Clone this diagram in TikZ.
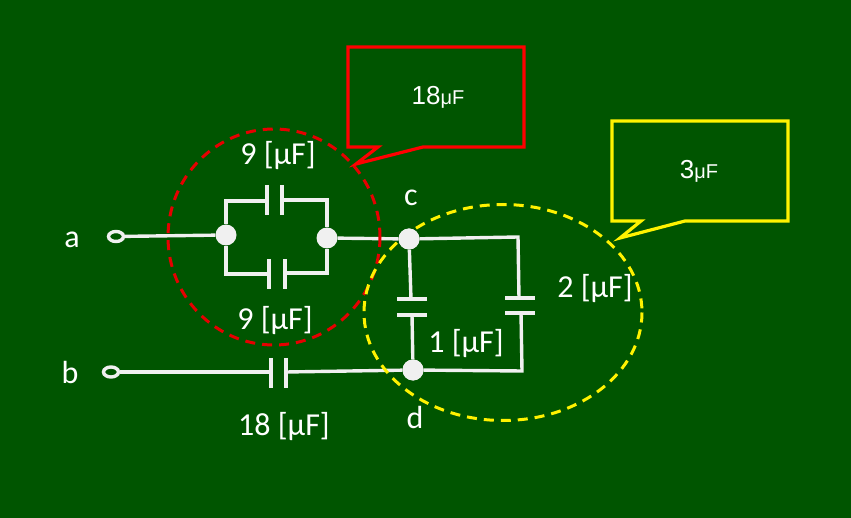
\documentclass[tikz,border=0pt]{standalone}
\usepackage{fontspec}
\setmainfont{Carlito}
\newfontfamily\calloutfont{Liberation Sans}
\usetikzlibrary{shapes.geometric}
\definecolor{board}{RGB}{0,85,0}
\definecolor{chalk}{RGB}{240,240,240}
\tikzset{
  wire/.style={draw=chalk, line width=3.4pt},
  plate/.style={draw=chalk, line width=4.4pt},
  junction/.style={circle, fill=chalk, inner sep=0pt, minimum size=21pt},
  terminal/.style={ellipse, draw=chalk, line width=3.4pt, fill=board, inner sep=0pt, minimum width=15pt, minimum height=10pt},
  label/.style={text=white, inner sep=0pt, font=\fontsize{32}{35}\selectfont},
  group/.style={line width=3pt, dash pattern=on 10pt off 7pt},
  callout/.style={line width=3.2pt, line join=miter},
  callouttext/.style={text=white, inner sep=0pt, font=\calloutfont\fontsize{26}{29}\selectfont}
}
\newcommand{\mufarad}{{\fontsize{20}{22}\selectfont μF}}
\begin{document}
\begin{tikzpicture}[x=1pt, y=-1pt]
    \fill[board] (0, 0) rectangle (851, 518);
    \useasboundingbox (0, 0) rectangle (851, 518);

    % terminals and junctions
    \node[terminal] (ta) at (116, 236.5) {};
    \node[terminal] (tb) at (111, 372) {};
    \node[junction] (jl) at (226, 235) {};
    \node[junction] (jr) at (327, 238) {};
    \node[junction] (jc) at (409, 239) {};
    \node[junction] (jd) at (413, 370) {};
    \coordinate (tl) at (226, 201);
    \coordinate (tr) at (327, 200);
    \coordinate (bl) at (226, 274);
    \coordinate (br) at (327, 273);
    \coordinate (cr) at (518, 237);
    \coordinate (dr) at (522, 371);

    % plates of the capacitors
    \coordinate (p1a) at (267, 201);
    \coordinate (p1b) at (282, 200);
    \coordinate (p2a) at (269, 274);
    \coordinate (p2b) at (285, 273);
    \coordinate (p3a) at (271, 372);
    \coordinate (p3b) at (286, 372);
    \coordinate (p4a) at (411, 299);
    \coordinate (p4b) at (412, 315);
    \coordinate (p5a) at (519, 298);
    \coordinate (p5b) at (521, 313);
    \draw[plate] (267, 185) -- (267, 215);
    \draw[plate] (282, 185) -- (282, 215);
    \draw[plate] (269, 259) -- (269, 289);
    \draw[plate] (285, 259) -- (285, 289);
    \draw[plate] (271, 358) -- (271, 388);
    \draw[plate] (286, 358) -- (286, 388);
    \draw[plate] (397, 299) -- (427, 299);
    \draw[plate] (397, 315) -- (427, 315);
    \draw[plate] (505, 298) -- (535, 298);
    \draw[plate] (505, 313) -- (535, 313);

    % wires
    \draw[wire] (ta) -- (jl);
    \draw[wire] (jl) -- (tl) -- (p1a);
    \draw[wire] (p1b) -- (tr) -- (jr);
    \draw[wire] (jl) -- (bl) -- (p2a);
    \draw[wire] (p2b) -- (br) -- (jr);
    \draw[wire] (jr) -- (jc);
    \draw[wire] (jc) -- (cr) -- (p5a);
    \draw[wire] (jc) -- (p4a);
    \draw[wire] (p4b) -- (jd);
    \draw[wire] (p5b) -- (dr) -- (jd);
    \draw[wire] (tb) -- (p3a);
    \draw[wire] (p3b) -- (jd);

    % dashed groups
    \draw[group, red!90!black] (274, 237) ellipse [x radius=106, y radius=108];
    \draw[group, yellow] (503, 312.5) ellipse [x radius=139, y radius=108];
    \node[junction] at (jc) {};
    \node[junction] at (jd) {};

    % callouts
    \draw[callout, red] (348, 47) -- (524, 47) -- (524, 147) -- (423, 147)
                        -- (356, 164) -- (378, 147) -- (348, 147) -- cycle;
    \draw[callout, yellow] (612, 121) -- (788, 121) -- (788, 221) -- (685, 221)
                        -- (620, 238) -- (641, 221) -- (612, 221) -- cycle;
    \node[callouttext] (total1) at (438, 97) {18\mufarad};
    \node[callouttext] (total2) at (699, 171) {3\mufarad};

    % labels
    \node[label] (la) at (72, 240) {a};
    \node[label] (lb) at (70, 373) {b};
    \node[label] (lc) at (411, 198) {c};
    \node[label] (ld) at (415, 417) {d};
    \node[label] (c1) at (278, 156) {9 [μF]};
    \node[label] (c2) at (275, 321) {9 [μF]};
    \node[label] (c3) at (284, 427) {18 [μF]};
    \node[label] (c4) at (466, 344) {1 [μF]};
    \node[label] (c5) at (595, 289) {2 [μF]};
\end{tikzpicture}
\end{document}
